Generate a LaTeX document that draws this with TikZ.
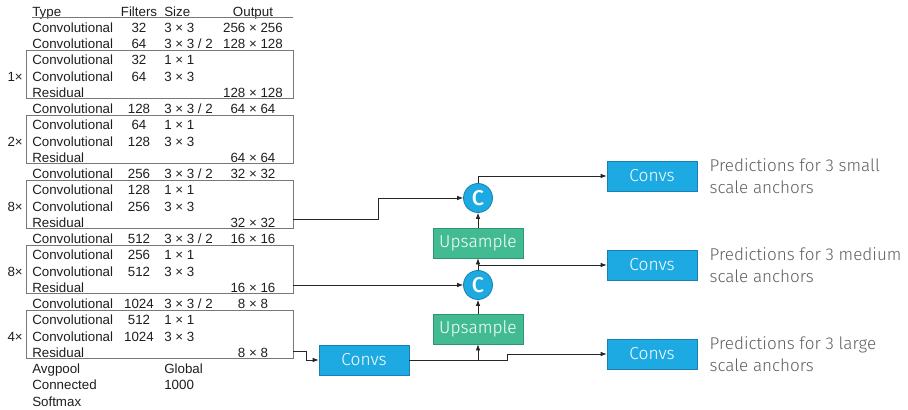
\documentclass[tikz,border=0pt]{standalone}
\usepackage{fontspec}
\setmainfont{Liberation Sans}
\newfontfamily\lightfont{Fira Sans}[UprightFont=* Light, BoldFont=* Medium]
\usetikzlibrary{positioning,calc,arrows.meta}
\definecolor{convblue}{RGB}{29,170,226}
\definecolor{convedge}{RGB}{24,128,178}
\definecolor{upgreen}{RGB}{66,187,146}
\definecolor{upedge}{RGB}{46,150,110}
\definecolor{predgray}{RGB}{95,95,95}
\definecolor{tabtext}{RGB}{30,30,30}
\definecolor{tabrule}{RGB}{120,120,120}
\begin{document}
\begin{tikzpicture}[x=0.75pt,y=-0.75pt,
  cell/.style={font=\fontsize{10}{12}\selectfont, text=tabtext, inner sep=0pt},
  grp/.style={draw=tabrule, line width=0.6pt, minimum width=200.25pt, minimum height=36.1pt, inner sep=0pt},
  convbox/.style={draw=convedge, fill=convblue, line width=0.6pt, text=white, minimum width=67.5pt, minimum height=22.5pt, inner sep=0pt, font=\lightfont\fontsize{13}{15}\selectfont},
  upbox/.style={convbox, draw=upedge, fill=upgreen},
  catnode/.style={circle, draw=convedge, fill=convblue, line width=0.6pt, text=white, minimum size=21.75pt, inner sep=0pt, font=\lightfont\bfseries\fontsize{16}{18}\selectfont},
  pred/.style={align=left, inner sep=0pt, text=predgray, font=\lightfont\fontsize{12.8}{16.3}\selectfont},
  conn/.style={draw=black!85, line width=0.6pt, -{Latex[length=4.5pt,width=3.5pt]}}]
\useasboundingbox (0,0) rectangle (908,410);

% darknet-53 table
\foreach \k/\tp/\fl/\sz/\ou in {0/Type/Filters/Size/Output,
    1/Convolutional/32/3 × 3/256 × 256, 2/Convolutional/64/{3 × 3 / 2}/128 × 128,
    3/Convolutional/32/1 × 1/, 4/Convolutional/64/3 × 3/, 5/Residual///128 × 128,
    6/Convolutional/128/{3 × 3 / 2}/64 × 64,
    7/Convolutional/64/1 × 1/, 8/Convolutional/128/3 × 3/, 9/Residual///64 × 64,
    10/Convolutional/256/{3 × 3 / 2}/32 × 32,
    11/Convolutional/128/1 × 1/, 12/Convolutional/256/3 × 3/, 13/Residual///32 × 32,
    14/Convolutional/512/{3 × 3 / 2}/16 × 16,
    15/Convolutional/256/1 × 1/, 16/Convolutional/512/3 × 3/, 17/Residual///16 × 16,
    18/Convolutional/1024/{3 × 3 / 2}/8 × 8,
    19/Convolutional/512/1 × 1/, 20/Convolutional/1024/3 × 3/, 21/Residual///8 × 8,
    22/Avgpool//Global/, 23/Connected//1000/, 24/Softmax///} {
  \node[cell, anchor=base west] (ty\k) at (32,16.2+16.25*\k) {\tp};
  \node[cell, anchor=base] (fl\k) at (139,16.2+16.25*\k) {\fl};
  \node[cell, anchor=base west] (sz\k) at (164,16.2+16.25*\k) {\sz};
  \node[cell, anchor=base] (ou\k) at (253,16.2+16.25*\k) {\ou};
}
\draw[tabrule, line width=0.6pt] ([yshift=-1pt]ty0.base west) -- ++(261,0);

% repeated blocks
\foreach \m/\n/\r in {4/1/1, 8/2/2, 12/3/8, 16/4/8, 20/5/4} {
  \node[grp] (blk\n) at (159.5,16.2+16.25*\m-6.6) {};
  \node[cell, anchor=base east] (mul\n) at (23,16.2+16.25*\m) {\r×};
}

% detection head
\node[convbox] (conv0) at (364,360) {Convs};
\node[upbox] (up2) at (478,329) {Upsample};
\node[catnode] (cat2) at (478,285) {C};
\node[upbox] (up1) at (478,243) {Upsample};
\node[catnode] (cat1) at (478,198) {C};
\node[convbox] (conv1) at (652,176) {Convs};
\node[convbox] (conv2) at (652,265) {Convs};
\node[convbox] (conv3) at (652,354) {Convs};
\node[pred, right=9pt of conv1] (pred1) {Predictions for 3 small\\scale anchors};
\node[pred, right=9pt of conv2] (pred2) {Predictions for 3 medium\\scale anchors};
\node[pred, right=9pt of conv3] (pred3) {Predictions for 3 large\\scale anchors};

\draw[conn] ($(blk3.east)+(0,15)$) -- ++(85,0) |- (cat1.west);
\draw[conn] (cat2.west -| blk4.east) -- (cat2.west);
\draw[conn] ($(blk5.east)+(0,17)$) -- ++(13,0) |- (conv0.west);
\draw[conn] (conv0.east) -| (up2.south);
\draw[conn] (conv0.east) -- ++(98,0) |- (conv3.west);
\draw[conn] (up2) -- (cat2);
\draw[conn] (cat2) -- (up1);
\draw[conn] (conv2.west -| cat2.north) -- (conv2.west);
\draw[conn] (up1) -- (cat1);
\draw[conn] (cat1.north) |- (conv1.west);
\end{tikzpicture}
\end{document}
